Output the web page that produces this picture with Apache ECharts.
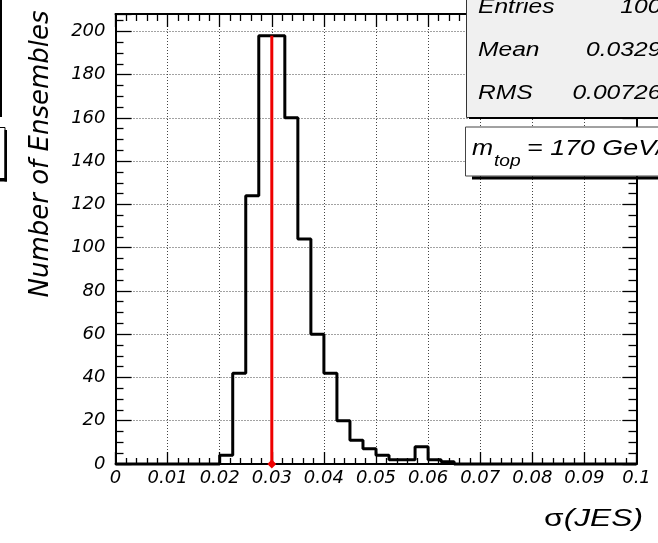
<!DOCTYPE html>
<html>
<head>
<meta charset="utf-8">
<script src="https://cdn.jsdelivr.net/npm/echarts@6/dist/echarts.min.js"></script>
<style>
  html, body { margin: 0; padding: 0; background: #ffffff; }
  #chart { width: 658px; height: 543px; }
</style>
</head>
<body>
<div id="chart"></div>
<script>
// ---- data ----
const binStart = 0;
const binWidth = 0.0025;
const counts = [
  0, 0, 0, 0, 0, 0, 0, 0,        // 0.000 - 0.020
  4, 42, 124, 198,               // 0.020 - 0.030
  198, 160, 104, 60,             // 0.030 - 0.040
  42, 20, 11, 7,                 // 0.040 - 0.050
  4, 2, 2, 8,                    // 0.050 - 0.060
  2, 1, 0, 0,                    // 0.060 - 0.070
  0, 0, 0, 0,                    // 0.070 - 0.080
  0, 0, 0, 0,                    // 0.080 - 0.090
  0, 0, 0, 0                     // 0.090 - 0.100
];
const xRange = [0, 0.1];
const yRange = [0, 208];
const refLineX = 0.03;
const refLineTop = 198;
const statsLabels = ['Entries', 'Mean', 'RMS'];
const statsValues = ['1000', '0.03292', '0.007264'];
const xTitle = 'σ(JES)';
const yTitle = 'Number of Ensembles';
const massLabel = ['m', 'top', '= 170 GeV/c²'];

// ---- build step outline from bin edges ----
const histPoints = counts.map((c, i) => [binStart + i * binWidth, c]);
histPoints.push([binStart + counts.length * binWidth, counts[counts.length - 1]]);

const tickFont = { fontFamily: 'DejaVu Sans', fontStyle: 'italic', fontSize: 18, color: '#000' };
const gridDots = { color: '#444', width: 1, type: [1, 2] };

const chart = echarts.init(document.getElementById('chart'), null, { renderer: 'canvas' });

function txt(x, y, text, size, align, scaleX, extra) {
  return Object.assign({
    type: 'text', x: x, y: y, scaleX: scaleX, z: 110,
    style: {
      text: text, x: 0, y: 0,
      fontFamily: 'Liberation Sans', fontStyle: 'italic', fontSize: size,
      fill: '#000',
      align: align, verticalAlign: 'middle',
      textAlign: align, textVerticalAlign: 'middle'
    }
  }, extra || {});
}

const statsY = [7, 50.3, 93.7];
const graphics = [
  // clipped neighbour boxes at left edge
  { type: 'rect', z: 100, shape: { x: 0, y: -2, width: 2, height: 119 }, style: { fill: '#000' } },
  { type: 'rect', z: 100, shape: { x: -20, y: 127.5, width: 25, height: 51 }, style: { fill: '#fff', stroke: '#000', lineWidth: 1 } },
  { type: 'rect', z: 100, shape: { x: 4.5, y: 130, width: 2.5, height: 51.5 }, style: { fill: '#000' } },
  { type: 'rect', z: 100, shape: { x: -20, y: 178.5, width: 27, height: 3 }, style: { fill: '#000' } },
  // stats box
  { type: 'rect', z: 100, shape: { x: 466.5, y: -10, width: 230, height: 127.5 }, style: { fill: '#f0f0f0', stroke: '#333', lineWidth: 1 } },
  { type: 'rect', z: 100, shape: { x: 469, y: 117, width: 230, height: 2 }, style: { fill: '#000' } },
  // m_top box
  { type: 'rect', z: 100, shape: { x: 465.5, y: 127, width: 230, height: 49 }, style: { fill: '#fff', stroke: '#444', lineWidth: 1 } },
  { type: 'rect', z: 100, shape: { x: 472, y: 176.5, width: 230, height: 3 }, style: { fill: '#000' } }
];
statsLabels.forEach((l, i) => graphics.push(txt(478, statsY[i], l, 20.5, 'left', 1.2)));
statsValues.forEach((v, i) => graphics.push(txt(675, statsY[i], v, 20.5, 'right', 1.2)));
graphics.push(txt(472, 149.2, massLabel[0], 22, 'left', 1.15));
graphics.push(txt(494, 161.5, massLabel[1], 16, 'left', 1.2));
graphics.push(txt(527, 149.2, massLabel[2], 22, 'left', 1.22));
// x-axis title
graphics.push({
  type: 'text', x: 643, y: 519.5, scaleX: 1.38, z: 110,
  style: {
    text: '{s|σ}{i|(JES)}', x: 0, y: 0,
    align: 'right', verticalAlign: 'middle', textAlign: 'right', textVerticalAlign: 'middle',
    fill: '#000',
    rich: {
      s: { fontFamily: 'Liberation Sans', fontStyle: 'normal', fontSize: 23, fill: '#000' },
      i: { fontFamily: 'Liberation Sans', fontStyle: 'italic', fontSize: 23, fill: '#000' }
    }
  }
});

const option = {
  animation: false,
  backgroundColor: '#ffffff',
  grid: { left: 115.5, top: 14, width: 521, height: 450, containLabel: false },
  xAxis: [
    {
      type: 'value', position: 'bottom', min: xRange[0], max: xRange[1], interval: 0.01,
      axisLine: { show: true, onZero: false, lineStyle: { color: '#000', width: 2 } },
      axisTick: { show: true, inside: true, length: 12, lineStyle: { color: '#000', width: 1.3 } },
      minorTick: { show: true, splitNumber: 5, length: 6, lineStyle: { color: '#000', width: 1.3 } },
      axisLabel: Object.assign({ margin: 5 }, tickFont),
      splitLine: { show: true, lineStyle: gridDots }
    },
    {
      type: 'value', position: 'top', min: xRange[0], max: xRange[1], interval: 0.01,
      axisLine: { show: true, onZero: false, lineStyle: { color: '#000', width: 2 } },
      axisTick: { show: true, inside: true, length: 13, lineStyle: { color: '#000', width: 1.3 } },
      minorTick: { show: true, splitNumber: 5, length: 7, lineStyle: { color: '#000', width: 1.3 } },
      axisLabel: { show: false },
      splitLine: { show: false }
    }
  ],
  yAxis: [
    {
      type: 'value', position: 'left', min: yRange[0], max: yRange[1], interval: 20,
      name: yTitle, nameLocation: 'middle', nameRotate: 90, nameGap: 61,
      nameTextStyle: { fontFamily: 'DejaVu Sans', fontStyle: 'italic', fontSize: 26, color: '#000', padding: [0, 0, 0, 170] },
      axisLine: { show: true, onZero: false, lineStyle: { color: '#000', width: 2 } },
      axisTick: { show: true, inside: true, length: 16, lineStyle: { color: '#000', width: 1.3 } },
      minorTick: { show: true, splitNumber: 4, length: 8, lineStyle: { color: '#000', width: 1.3 } },
      axisLabel: Object.assign({ margin: 10, showMaxLabel: false }, tickFont),
      splitLine: { show: true, lineStyle: gridDots }
    },
    {
      type: 'value', position: 'right', min: yRange[0], max: yRange[1], interval: 20,
      axisLine: { show: true, onZero: false, lineStyle: { color: '#000', width: 2 } },
      axisTick: { show: true, inside: true, length: 14, lineStyle: { color: '#000', width: 1.3 } },
      minorTick: { show: true, splitNumber: 4, length: 8, lineStyle: { color: '#000', width: 1.3 } },
      axisLabel: { show: false },
      splitLine: { show: false }
    }
  ],
  series: [
    {
      type: 'line', name: 'hist', xAxisIndex: 0, yAxisIndex: 0,
      data: histPoints, step: 'end', showSymbol: false, clip: false, z: 5,
      lineStyle: { color: '#000', width: 3 }
    },
    {
      type: 'line', name: 'ref', xAxisIndex: 0, yAxisIndex: 0,
      data: [[refLineX, 0], [refLineX, refLineTop]], clip: false, z: 6,
      showSymbol: true, showAllSymbol: true,
      symbol: (v, p) => (p.dataIndex === 0 ? 'diamond' : 'none'),
      symbolSize: [9, 9],
      itemStyle: { color: '#ee0000' },
      lineStyle: { color: '#ee0000', width: 3 }
    }
  ],
  graphic: { elements: graphics }
};
chart.setOption(option);
</script>
</body>
</html>
